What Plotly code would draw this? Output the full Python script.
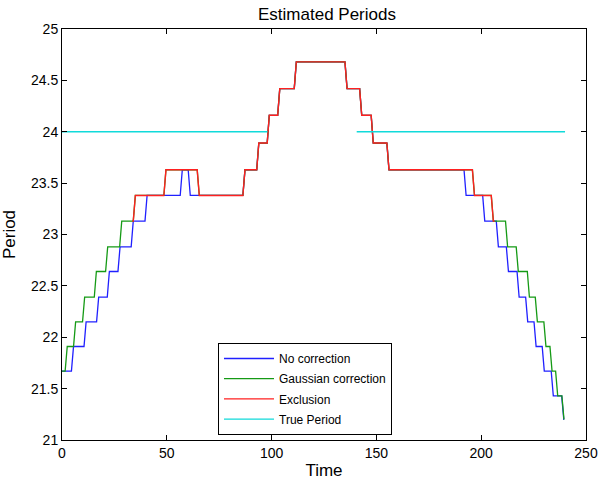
import plotly.graph_objects as go

# ---- data ----
# Each series: times at which the estimated period changes, and the level it takes from then on
blue_change_t = [0, 5, 11, 17, 22.1, 27.2, 33.5, 40.1, 56.9, 60.7, 86.8, 93.4, 98.4, 103.4, 111.3,
                 135.5, 142.5, 148.0, 155.5, 192.3, 201.2, 207.7, 212.5, 217.6, 221.7, 225.7,
                 229.6, 233.9, 238.9]
blue_levels = [21.67, 21.91, 22.15, 22.39, 22.64, 22.88, 23.13, 23.38, 23.63, 23.38, 23.63, 23.89,
               24.16, 24.42, 24.68, 24.42, 24.16, 23.89, 23.63, 23.38, 23.13, 22.88, 22.64, 22.39,
               22.15, 21.91, 21.67, 21.43, 21.20]
blue_end_t = 239.5

green_change_t = [0, 2, 6, 10.3, 15.9, 21.3, 28.0, 34.5, 49.1, 65.0, 86.8, 93.4, 98.4, 103.4, 111.3,
                  135.5, 142.5, 148.0, 155.5, 196.3, 205.3, 212.1, 217.2, 222.5, 226.3, 230.4,
                  233.3, 236.0, 239.0]
green_levels = [21.67, 21.91, 22.15, 22.39, 22.64, 22.88, 23.13, 23.38, 23.63, 23.38, 23.63, 23.89,
                24.16, 24.42, 24.68, 24.42, 24.16, 23.89, 23.63, 23.38, 23.13, 22.88, 22.64, 22.39,
                22.15, 21.91, 21.67, 21.43, 21.20]
green_end_t = 239.5

red_change_t = [33.5, 34.5, 49.1, 65.0, 86.8, 93.4, 98.4, 103.4, 111.3, 135.5, 142.5, 148.0,
                155.5, 196.3, 205.3]
red_levels = [23.13, 23.38, 23.63, 23.38, 23.63, 23.89, 24.16, 24.42, 24.68, 24.42, 24.16, 23.89,
              23.63, 23.38, 23.13]
red_end_t = 206.5

true_t = [0, 98, None, 140.6, 240]
true_period = [24, 24, None, 24, 24]

x_ticks = [0, 50, 100, 150, 200, 250]
y_ticks = [21, 21.5, 22, 22.5, 23, 23.5, 24, 24.5, 25]


def step_path(change_t, levels, end_t, half=0.5):
    xs, ys = [], []
    n = len(change_t)
    for i in range(n):
        start = change_t[i] + (half if i > 0 else 0)
        stop = change_t[i + 1] - half if i + 1 < n else end_t
        xs += [start, max(stop, start)]
        ys += [levels[i], levels[i]]
    return xs, ys


bx, by = step_path(blue_change_t, blue_levels, blue_end_t)
gx, gy = step_path(green_change_t, green_levels, green_end_t)
rx, ry = step_path(red_change_t, red_levels, red_end_t)

FONT = "Liberation Sans, Arial, Helvetica, sans-serif"

fig = go.Figure()
fig.add_trace(go.Scatter(x=bx, y=by, mode="lines", name="No correction", legendgroup="a",
                         line=dict(color="#2020ff", width=1.3)))
fig.add_trace(go.Scatter(x=gx, y=gy, mode="lines", name="Gaussian correction", legendgroup="b",
                         line=dict(color="#159a15", width=1.3)))
fig.add_trace(go.Scatter(x=rx, y=ry, mode="lines", name="Exclusion", legendgroup="c",
                         line=dict(color="#ff2020", width=1.4)))
fig.add_trace(go.Scatter(x=true_t, y=true_period, mode="lines", name="True Period", legendgroup="d",
                         line=dict(color="#10dada", width=1.4), connectgaps=False))

axis_common = dict(showgrid=False, zeroline=False, showline=True, linecolor="black", linewidth=1,
                   mirror="ticks", ticks="inside", ticklen=5, tickcolor="black",
                   tickfont=dict(family=FONT, size=14, color="black"))

fig.update_layout(
    width=600, height=484,
    margin=dict(l=62, r=14, t=29, b=44),
    paper_bgcolor="white", plot_bgcolor="white",
    font=dict(family=FONT, color="black"),
    title=dict(text="Estimated Periods", x=0.545, xanchor="center", y=0.971, yanchor="middle",
               font=dict(family=FONT, size=17, color="black")),
    xaxis=dict(range=[0, 250], tickvals=x_ticks, automargin=False,
               title=dict(text="Time", font=dict(family=FONT, size=17), standoff=4),
               **axis_common),
    yaxis=dict(range=[21, 25], tickvals=y_ticks, automargin=False,
               title=dict(text="Period", font=dict(family=FONT, size=17), standoff=11),
               **axis_common),
    legend=dict(x=0.2977, y=0.236, xanchor="left", yanchor="top", bgcolor="white",
                bordercolor="black", borderwidth=1, itemwidth=50,
                font=dict(family=FONT, size=12, color="black"), tracegroupgap=1.2),
    showlegend=True,
)

fig.write_html("out.html", post_script="document.body.style.margin='0';",
               config={"displayModeBar": False})
